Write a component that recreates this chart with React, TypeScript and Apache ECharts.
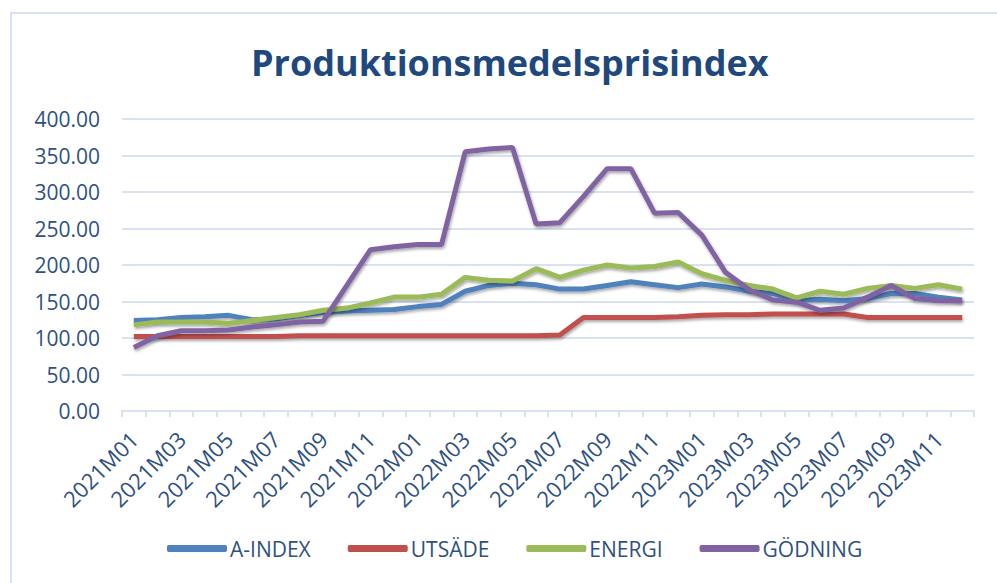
import React, { useEffect, useRef } from "react";
import * as echarts from "echarts";

const categories: string[] = [];
for (const y of [2021, 2022, 2023]) {
  for (let m = 1; m <= 12; m++) categories.push(`${y}M${m < 10 ? "0" + m : m}`);
}

const aIndex = [124, 125, 128, 129, 131, 125, 126, 131, 135, 137, 138, 139, 143, 146, 164, 172, 175, 173, 167, 167, 172, 177, 173, 169, 174, 170, 164, 161, 151, 153, 151, 154, 161, 161, 156, 152];
const utsade = [102, 102, 102, 102, 102, 102, 102, 103, 103, 103, 103, 103, 103, 103, 103, 103, 103, 103, 104, 128, 128, 128, 128, 129, 131, 132, 132, 133, 133, 133, 133, 128, 128, 128, 128, 128];
const energi = [118, 122, 122, 122, 120, 124, 128, 132, 138, 141, 148, 156, 156, 160, 183, 179, 178, 195, 183, 193, 200, 196, 198, 204, 188, 179, 172, 167, 155, 164, 160, 168, 172, 168, 173, 167];
const godning = [87, 103, 110, 110, 111, 115, 118, 122, 123, 172, 221, 225, 228, 228, 355, 359, 361, 256, 258, 294, 332, 332, 271, 272, 241, 190, 166, 152, 149, 138, 141, 156, 172, 154, 151, 151];

const seriesNames = ["A-INDEX", "UTSÄDE", "ENERGI", "GÖDNING"];
const seriesColors = ["#4F81BD", "#C0504D", "#9BBB59", "#8064A2"];
const seriesData = [aIndex, utsade, energi, godning];

const FONT = "'Open Sans', sans-serif";
const LABEL_COLOR = "#2F5182";
const GRID_COLOR = "#D9E2F2";

export default function App() {
  const ref = useRef<HTMLDivElement>(null);
  useEffect(() => {
    if (!ref.current) return;
    const chart = echarts.init(ref.current, undefined, { renderer: "svg" });
    chart.setOption({
      animation: false,
      backgroundColor: "#ffffff",
      title: {
        text: "Produktionsmedelsprisindex",
        left: 246,
        top: 39,
        textStyle: { fontFamily: FONT, fontWeight: "bold", fontSize: 36, color: "#1F497D" },
      },
      graphic: [
        {
          type: "rect",
          shape: { x: 11, y: 13, width: 1000, height: 600 },
          style: { fill: "none", stroke: "#D6E1F1", lineWidth: 2 },
          silent: true,
        },
      ],
      legend: {
        bottom: 19,
        left: 162,
        icon: "roundRect",
        itemWidth: 60,
        itemHeight: 7,
        itemGap: 37,
        textStyle: { fontFamily: FONT, fontSize: 21, color: LABEL_COLOR, padding: [0, 0, 0, -2] },
        data: seriesNames,
      },
      grid: { left: 122, right: 23, top: 119, bottom: 172 },
      xAxis: {
        type: "category",
        data: categories,
        boundaryGap: true,
        axisLine: { show: true, lineStyle: { color: GRID_COLOR, width: 2 } },
        axisTick: { show: true, interval: 0, length: 6, lineStyle: { color: GRID_COLOR, width: 2 } },
        axisLabel: {
          interval: 1,
          rotate: 45,
          margin: 24,
          fontFamily: FONT,
          fontSize: 22,
          color: LABEL_COLOR,
        },
      },
      yAxis: {
        type: "value",
        min: 0,
        max: 400,
        interval: 50,
        axisLine: { show: false },
        axisTick: { show: false },
        splitLine: { lineStyle: { color: GRID_COLOR, width: 2 } },
        axisLabel: {
          margin: 22,
          fontFamily: FONT,
          fontSize: 21,
          color: LABEL_COLOR,
          formatter: (v: number) => v.toFixed(2),
        },
      },
      series: seriesNames.map((name, i) => ({
        name,
        type: "line",
        data: seriesData[i],
        showSymbol: false,
        symbol: "none",
        color: seriesColors[i],
        lineStyle: {
          width: 5,
          color: seriesColors[i],
          shadowColor: "rgba(0,0,0,0.35)",
          shadowBlur: 3,
          shadowOffsetY: 2,
          shadowOffsetX: 1,
        },
      })),
    });
    return () => chart.dispose();
  }, []);
  return (
    <div
      ref={ref}
      style={{ position: "fixed", left: 0, top: 0, width: 997, height: 583 }}
    />
  );
}
